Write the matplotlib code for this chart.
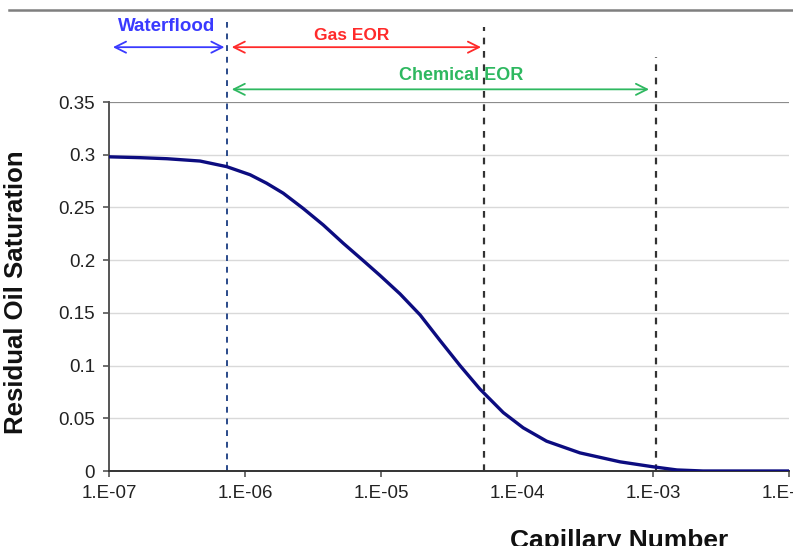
import matplotlib
matplotlib.use("Agg")
import matplotlib.pyplot as plt
from matplotlib.lines import Line2D

plt.rcParams['font.family'] = ['Liberation Sans', 'DejaVu Sans']

# capillary number vs residual oil saturation
cap_number = [1e-7, 1.69e-7, 2.67e-7, 4.67e-7, 7.33e-7, 1.09e-6, 1.44e-6, 1.91e-6,
              2.68e-6, 3.76e-6, 5.28e-6, 7.41e-6, 9.83e-6, 1.38e-5, 1.94e-5,
              2.72e-5, 3.81e-5, 5.34e-5, 7.93e-5, 1.11e-4, 1.65e-4, 2.90e-4,
              5.72e-4, 1.0e-3, 1.5e-3, 2.33e-3, 1e-2]
res_oil = [0.298, 0.2972, 0.2962, 0.294, 0.2887, 0.281, 0.273, 0.2635,
           0.249, 0.2334, 0.216, 0.1995, 0.1855, 0.168, 0.148,
           0.1237, 0.100, 0.0777, 0.0554, 0.041, 0.0283, 0.0172,
           0.0087, 0.004, 0.001, 0.0, 0.0]

xticks = [1e-7, 1e-6, 1e-5, 1e-4, 1e-3, 1e-2]
xtick_labels = ["1.E-07", "1.E-06", "1.E-05", "1.E-04", "1.E-03", "1.E-02"]
yticks = [0, 0.05, 0.1, 0.15, 0.2, 0.25, 0.3, 0.35]
ytick_labels = ["0", "0.05", "0.1", "0.15", "0.2", "0.25", "0.3", "0.35"]

# limits between the EOR regions
waterflood_end = 7.4e-7
gas_end = 5.7e-5
chem_end = 1.05e-3

fig = plt.figure(figsize=(7.93, 5.46), dpi=100)
ax = fig.add_axes([109 / 793, 75 / 546, 680 / 793, 369 / 546])

for y in yticks[1:-1]:
    ax.axhline(y, color="#d9d9d9", lw=1, zorder=0)
ax.axhline(0.35, color="#8c8c8c", lw=1.6, zorder=0)

ax.plot(cap_number, res_oil, color="#0c0c80", lw=2.4, zorder=3,
        solid_joinstyle="round")

ax.set_xscale("log")
ax.set_xlim(1e-7, 1e-2)
ax.set_ylim(0, 0.35)
ax.set_xticks(xticks)
ax.set_xticklabels(xtick_labels)
ax.minorticks_off()
ax.set_yticks(yticks)
ax.set_yticklabels(ytick_labels)
ax.tick_params(axis="both", labelsize=13.5, length=4, width=1.2, color="#555555",
               labelcolor="#222222", pad=6)

for side in ["top", "right"]:
    ax.spines[side].set_visible(False)
ax.spines["left"].set_color("#555555")
ax.spines["left"].set_linewidth(1.4)
ax.spines["bottom"].set_color("#333333")
ax.spines["bottom"].set_linewidth(1.4)

# dashed region limits
ax.vlines(waterflood_end, 0, 0.426, colors="#2a4a8a", linestyles=(0, (3, 3)), lw=1.4, clip_on=False, zorder=2)
ax.vlines(gas_end, 0, 0.421, colors="#333333", linestyles=(0, (3, 3)), lw=1.6, clip_on=False, zorder=2)
ax.vlines(chem_end, 0, 0.393, colors="#333333", linestyles=(0, (3, 3)), lw=1.6, clip_on=False, zorder=2)

# range arrows
arrow_kw = dict(arrowstyle="<->", lw=1.3, mutation_scale=20)
ax.annotate("", xy=(waterflood_end, 0.402), xytext=(1.02e-7, 0.402),
            arrowprops=dict(color="#3a3aff", **arrow_kw), annotation_clip=False)
ax.annotate("", xy=(gas_end, 0.402), xytext=(waterflood_end * 1.03, 0.402),
            arrowprops=dict(color="#ff2a2a", **arrow_kw), annotation_clip=False)
ax.annotate("", xy=(9.8e-4, 0.362), xytext=(waterflood_end * 1.03, 0.362),
            arrowprops=dict(color="#2eb860", **arrow_kw), annotation_clip=False)

ax.text(2.67e-7, 0.422, "Waterflood", color="#3a3aff", fontsize=13.5, fontweight="bold",
        ha="center", va="center", clip_on=False)
ax.text(6.1e-6, 0.413, "Gas EOR", color="#ff2a2a", fontsize=12.5, fontweight="bold",
        ha="center", va="center", clip_on=False)
ax.text(3.9e-5, 0.375, "Chemical EOR", color="#2eb860", fontsize=13, fontweight="bold",
        ha="center", va="center", clip_on=False)

ax.set_ylabel("Residual Oil Saturation", fontsize=18.5, fontweight="bold", color="#111111")
ax.yaxis.set_label_coords(-0.119, 0.485)
ax.set_xlabel("Capillary Number", fontsize=19, fontweight="bold", color="#111111", va="center")
ax.xaxis.set_label_coords(0.75, -0.19)

# chart frame line at the top
fig.add_artist(Line2D([9 / 793, 1], [1 - 10 / 546, 1 - 10 / 546], transform=fig.transFigure,
                      color="#7f7f7f", lw=1.8))

fig.savefig("out.png", dpi=100)
